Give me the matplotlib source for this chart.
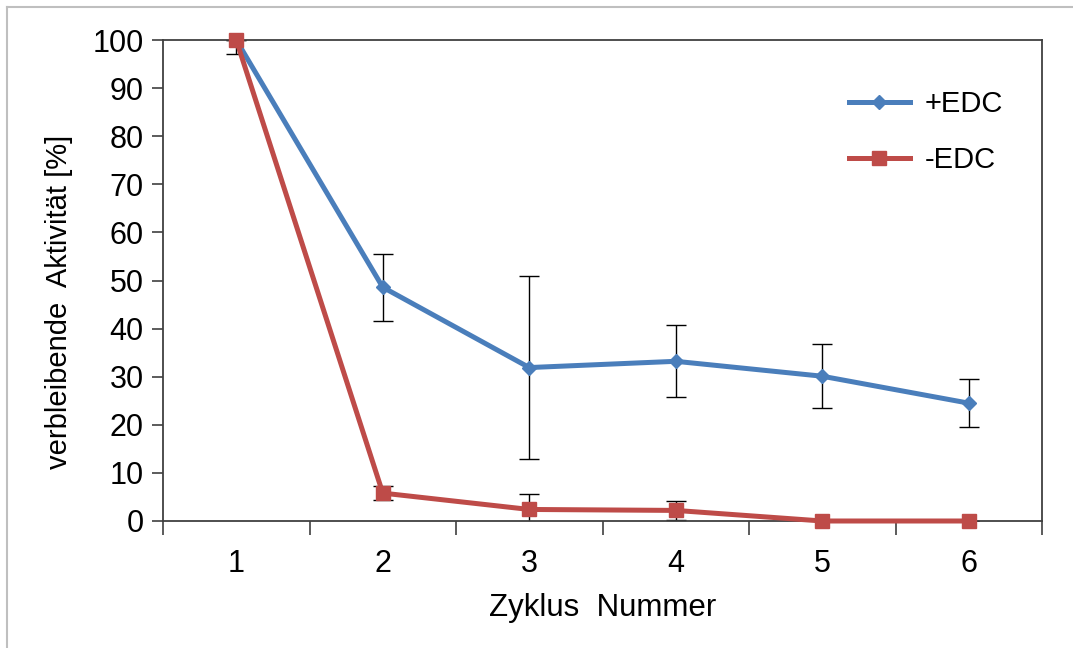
import matplotlib
matplotlib.use("Agg")
import matplotlib.pyplot as plt
from matplotlib.lines import Line2D

plt.rcParams['font.family'] = ['Liberation Sans', 'DejaVu Sans']

cycles = [1, 2, 3, 4, 5, 6]
with_edc = [100, 48.6, 31.9, 33.2, 30.1, 24.5]
with_edc_err = [3.0, 7.0, 19.0, 7.5, 6.7, 5.0]
without_edc = [100, 5.8, 2.4, 2.2, 0.0, 0.0]
without_edc_err = [0.0, 1.5, 3.2, 2.0, 0.0, 0.0]
x_label = "Zyklus  Nummer"
y_label = "verbleibende  Aktivität [%]"

blue = "#4A7EBB"
red = "#BE4B48"
spine_col = "#404040"

fig = plt.figure(figsize=(10.73, 6.48), dpi=100)
ax = fig.add_axes([163 / 1073, 1 - 521 / 648, (1042 - 163) / 1073, (521 - 40) / 648])

ax.errorbar(cycles, with_edc, yerr=with_edc_err, fmt='none', ecolor='black',
            elinewidth=1, capsize=7, capthick=1, zorder=2)
ax.errorbar(cycles, without_edc, yerr=without_edc_err, fmt='none', ecolor='black',
            elinewidth=1, capsize=7, capthick=1, zorder=2)
ax.plot(cycles, with_edc, color=blue, lw=3.6, marker='D', markersize=7.5,
        label='+EDC', zorder=3, clip_on=False)
ax.plot(cycles, without_edc, color=red, lw=3.6, marker='s', markersize=10,
        label='-EDC', zorder=4, clip_on=False)

ax.set_xlim(0.5, 6.5)
ax.set_ylim(0, 100)
ax.set_yticks(range(0, 101, 10))
ax.set_xticks([c for c in cycles])
ax.set_xticks([c + 0.5 for c in [0] + cycles], minor=True)
ax.tick_params(axis='x', which='major', length=0, labelsize=22, pad=20)
ax.tick_params(axis='x', which='minor', length=10, width=1.2, color=spine_col, direction='out')
ax.tick_params(axis='y', length=8, width=1.2, color=spine_col, direction='out', labelsize=22, pad=6)
for s in ax.spines.values():
    s.set_color(spine_col)
    s.set_linewidth(1.3)

ax.set_xlabel(x_label, fontsize=22.5)
ax.set_ylabel(y_label, fontsize=21)
ax.xaxis.set_label_coords(0.5, -0.15)
ax.yaxis.set_label_coords(-0.102, 0.455)

ax.legend(loc='upper left', bbox_to_anchor=(0.75, 0.95), frameon=False, fontsize=21,
          handlelength=2.1, labelspacing=0.95, handletextpad=0.5)

# light outer frame
fig.add_artist(Line2D([7 / 1073, 1], [1 - 7 / 648, 1 - 7 / 648], color='#BFBFBF', lw=1.5,
                      transform=fig.transFigure))
fig.add_artist(Line2D([7 / 1073, 7 / 1073], [0, 1 - 7 / 648], color='#BFBFBF', lw=1.5,
                      transform=fig.transFigure))

fig.savefig("out.png", dpi=100, facecolor='white')
